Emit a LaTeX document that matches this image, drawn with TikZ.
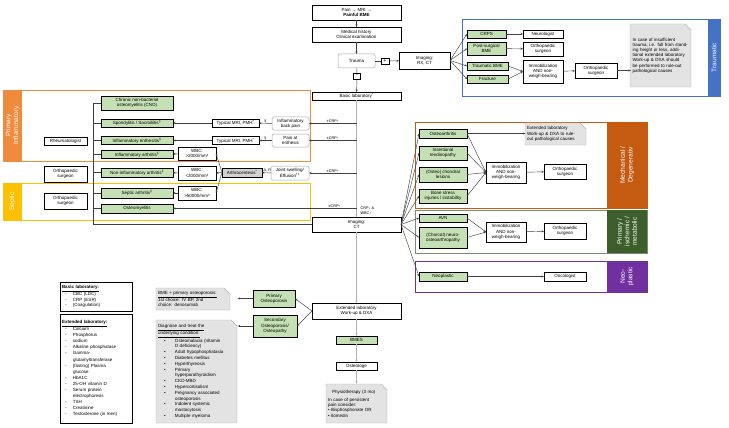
\documentclass[tikz,border=0pt]{standalone}
\usepackage{fontspec}
\setmainfont{Liberation Sans}
\usetikzlibrary{arrows.meta,calc}
\definecolor{grn}{HTML}{C5E0B4}
\definecolor{orgA}{HTML}{F08A3C}
\definecolor{orgB}{HTML}{C55A11}
\definecolor{yel}{HTML}{FFC000}
\definecolor{blu}{HTML}{4472C4}
\definecolor{dgr}{HTML}{3B5E2B}
\definecolor{pur}{HTML}{7030A0}
\definecolor{notef}{HTML}{E3E3E3}
\definecolor{linec}{HTML}{404040}
\newcommand\dgfont{\fontsize{4.5}{5.2}\selectfont}
\newcommand\dglab{\fontsize{3.8}{4.4}\selectfont}
\newcommand\dgstrip{\fontsize{6.6}{7.6}\selectfont}
\newcommand\itm[1]{\hspace*{3pt}\makebox[8pt][l]{-}#1}
\newcommand\itc[1]{\hspace*{11pt}#1}
\newcommand\btm[1]{\hspace*{6pt}\makebox[11pt][l]{\textbullet}#1}
\newcommand\btc[1]{\hspace*{17pt}#1}
\newcommand\foldnote[4]{\filldraw[notefill] (#1,#2) -- (#3-6,#2) -- (#3,#2+6) -- (#3,#4) -- (#1,#4) -- cycle;}
\begin{document}
\begin{tikzpicture}[x=1pt,y=-1pt,
  base/.style={font=\dgfont, align=center, inner sep=0.6pt, outer sep=0pt},
  wbox/.style={base, draw=black, line width=0.75pt, fill=white},
  gbox/.style={base, draw=black, line width=0.85pt, fill=grn},
  rbox/.style={base, draw=gray!70, line width=0.5pt, rounded corners=1.5pt, fill=white},
  gybox/.style={base, draw=black, line width=0.75pt, fill=gray!35},
  arr/.style={-{Stealth[length=2.5pt,width=2.1pt]}, draw=linec, line width=0.45pt},
  ln/.style={draw=linec, line width=0.45pt},
  mainv/.style={-{Stealth[length=2.6pt,width=2.2pt]}, draw=gray!60, line width=0.8pt},
  lbl/.style={font=\dglab, inner sep=0.4pt},
  striptxt/.style={font=\dgstrip, text=white, align=center, rotate=90, inner sep=0pt},
  notefill/.style={fill=notef, draw=gray!60, line width=0.4pt},
  notetxt/.style={font=\dgfont, align=left, inner sep=1.5pt},
  listbox/.style={draw=black, line width=0.75pt, fill=white, align=left, inner sep=2pt},
  signbox/.style={draw=black, line width=0.5pt, fill=white, inner sep=0pt, font=\fontsize{5.5}{5.5}\selectfont}
]
\useasboundingbox (0,0) rectangle (729,428);

% ---------- frames ----------
\draw[orgA, line width=0.9pt] (3,90) rectangle (310,161);
\fill[orgA] (3,90) rectangle (22,161);
\node[striptxt] (lblinf) at (12.5,125.5) {Primary\\Inflammatory};

\draw[yel, line width=0.9pt] (3,183) rectangle (310,220);
\fill[yel] (3,183) rectangle (22,220);
\node[striptxt] (lblsep) at (12.5,201.5) {Septic};

\draw[blu, line width=0.9pt] (462,19) rectangle (720,96);
\fill[blu] (708,19) rectangle (720,96);
\node[striptxt] (lbltra) at (714,57.5) {Traumatic};

\draw[orgB, line width=0.9pt] (415,122) rectangle (647,208);
\fill[orgB] (607,122) rectangle (647,208);
\node[striptxt] (lblmec) at (627,165) {Mechanical /\\Degenerativ};

\draw[dgr!70, line width=0.9pt] (415,210) rectangle (647,253);
\fill[dgr] (607,210) rectangle (647,253);
\node[striptxt] (lblisc) at (627,231.5) {Primary /\\ischemic /\\metabolic};

\draw[pur, line width=0.9pt] (415,261) rectangle (647,292);
\fill[pur] (607,261) rectangle (647,292);
\node[striptxt] (lblneo) at (627,276.5) {Neo-\\plastic};

% ---------- top column ----------
\node[wbox, minimum width=89, minimum height=15] (pain) at (356.5,12.5) {Pain → MRI →\\\textbf{Painful BME}};
\node[wbox, minimum width=89, minimum height=15] (med) at (356.5,34.5) {Medical history\\Clinical examination};
\node[rbox, minimum width=37, minimum height=14] (trauma) at (356.5,61) {Trauma};
\node[signbox, minimum width=8, minimum height=6] (plus) at (385,61) {+};
\node[wbox, minimum width=51, minimum height=17] (imgrx) at (424.5,60.5) {Imaging:\\RX, CT};
\node[signbox, minimum width=7, minimum height=6] (minus) at (357,76) {-};
\node[wbox, minimum width=89, minimum height=8] (basic) at (356.5,96) {Basic laboratory\textsuperscript{*}};

% ---------- traumatic ----------
\node[gbox, minimum width=39, minimum height=8] (crps) at (486.5,34) {CRPS};
\node[gbox, minimum width=39, minimum height=13] (postsurg) at (486.5,48.5) {Post-surgical\\BME};
\node[gbox, minimum width=41, minimum height=8] (traumbme) at (487.5,66) {Traumatic BME};
\node[gbox, minimum width=41, minimum height=8] (fracture) at (487.5,79) {Fracture};
\node[wbox, minimum width=40, minimum height=8] (neuro) at (543,34) {Neurologist};
\node[wbox, minimum width=40, minimum height=14] (ortho1) at (543,49) {Orthopaedic\\surgeon};
\node[wbox, minimum width=40, minimum height=23] (immo1) at (543,71.5) {Immobilization\\AND non-\\weigh-bearing};
\node[wbox, minimum width=42, minimum height=15] (ortho2) at (596,70.5) {Orthopaedic\\surgeon};
\foldnote{630}{24}{691}{87}
\node[notetxt, text width=56pt, minimum height=63] (note1) at (660.5,55.5) {In case of insufficient trauma, i.e. fall from standing height or less, additional extended laboratory Work-up \& DXA should be performed to rule-out pathological causes};

% ---------- primary inflammatory ----------
\node[gbox, minimum width=72, minimum height=14] (cno) at (137,103) {Chronic non-bacterial\\osteomyelitis (CNO)};
\node[gbox, minimum width=72, minimum height=8] (spond) at (137,123) {Spondylitis / Sacroiliitis\textsuperscript{§}};
\node[gbox, minimum width=72, minimum height=8] (enth) at (137,140.5) {Inflammatory enthesitis\textsuperscript{§}};
\node[gbox, minimum width=72, minimum height=8] (infarth) at (137,154.5) {Inflammatory arthritis\textsuperscript{§}};
\node[wbox, minimum width=43, minimum height=8] (rheum) at (65.5,141) {Rheumatologist};
\node[wbox, minimum width=38, minimum height=13] (wbc1) at (197,153.5) {WBC:\\>2000/mm³};
\node[wbox, minimum width=47, minimum height=8] (mri1) at (235.5,123) {Typical MRI, PMH\textsuperscript{*}};
\node[wbox, minimum width=47, minimum height=8] (mri2) at (235.5,140.5) {Typical MRI, PMH\textsuperscript{*}};
\node[rbox, minimum width=37, minimum height=13] (ibp) at (290.5,123.5) {Inflammatory\\back pain};
\node[rbox, minimum width=37, minimum height=13] (pae) at (290.5,140.5) {Pain at\\enthesis};

% ---------- middle row ----------
\node[wbox, minimum width=43, minimum height=16] (orthol1) at (65.5,174) {Orthopaedic\\surgeon};
\node[gbox, minimum width=72, minimum height=9] (noninf) at (137,172.5) {Non-inflammatory arthritis\textsuperscript{§}};
\node[wbox, minimum width=38, minimum height=14] (wbc2) at (197,173) {WBC:\\<2000/mm³};
\node[gybox, minimum width=40, minimum height=9] (arthro) at (242,172.5) {Arthrocentesis\textsuperscript{*}};
\node[rbox, minimum width=38, minimum height=14] (joint) at (290,173) {Joint swelling/\\Effusion\textsuperscript{†‡}};

% ---------- septic ----------
\node[wbox, minimum width=43, minimum height=16] (orthol2) at (65.5,201) {Orthopaedic\\surgeon};
\node[gbox, minimum width=72, minimum height=10] (septic) at (137,193) {Septic arthritis\textsuperscript{§}};
\node[wbox, minimum width=38, minimum height=14] (wbc3) at (197,193) {WBC:\\>50000/mm³};
\node[gbox, minimum width=72, minimum height=9] (osteomy) at (137,208.5) {Osteomyelitis};

\node[wbox, minimum width=89, minimum height=15] (imgct) at (356.5,224.5) {Imaging:\\CT};

% ---------- mechanical ----------
\node[gbox, minimum width=48, minimum height=9] (oa) at (443,133.5) {Osteoarthritis};
\node[gbox, minimum width=48, minimum height=14] (ins) at (443,153) {Insertional\\tendinopathy};
\node[gbox, minimum width=48, minimum height=15] (chon) at (443,174.5) {(Osteo) chondral\\lesions};
\node[gbox, minimum width=48, minimum height=14] (bsi) at (443,196) {Bone stress\\injuries / instability};
\foldnote{525}{123}{586}{145}
\node[notetxt, text width=57pt, minimum height=22] (extnote) at (555.5,134) {Extended laboratory\\Work-up \& DXA to rule-\\out pathological causes};
\node[wbox, minimum width=40, minimum height=21] (immo2) at (506,172.5) {Immobilization\\AND non-\\weigh-bearing};
\node[wbox, minimum width=42, minimum height=15] (ortho3) at (565,171.5) {Orthopaedic\\surgeon};

% ---------- ischemic ----------
\node[gbox, minimum width=48, minimum height=8] (avn) at (443,218) {AVN};
\node[gbox, minimum width=48, minimum height=21] (charcot) at (443,237.5) {(Charcot) neuro-\\osteoarthropathy};
\node[wbox, minimum width=40, minimum height=20] (immo3) at (506,232) {Immobilization\\AND non-\\weigh-bearing};
\node[wbox, minimum width=42, minimum height=16] (ortho4) at (565,231) {Orthopaedic\\surgeon};

% ---------- neoplastic ----------
\node[gbox, minimum width=48, minimum height=9] (neo) at (443,276.5) {Neoplastic};
\node[wbox, minimum width=42, minimum height=9] (onco) at (565,276.5) {Oncologist};

% ---------- bottom ----------
\node[wbox, minimum width=89, minimum height=16] (extlab) at (356.5,311) {Extended laboratory\\Work-up \& DXA};
\node[gbox, minimum width=41, minimum height=8] (bmes) at (356.5,340) {BMES};
\node[wbox, minimum width=41, minimum height=8] (osteologe) at (356.5,366) {Osteologe};
\foldnote{326}{384}{387}{423}
\node[notetxt, text width=57pt, minimum height=39] (physio) at (356.5,403.5) {\hspace*{4pt}Physiotherapy (3 mo)\\[3pt]In case of persistent\\pain consider:\\\textbullet\ Bisphosphonate OR\\\textbullet\ Ilomedin};
\node[gbox, minimum width=42, minimum height=17] (primost) at (274,298.5) {Primary\\Osteoporosis};
\node[gbox, minimum width=44, minimum height=22] (secost) at (275,326) {Secondary\\Osteoporosis/\\Osteopathy};
\foldnote{156}{288}{230}{310}
\node[notetxt, text width=70pt, minimum height=22] (bmenote) at (193,299) {\underline{BME + primary osteoporosis:}\\1st choice: IV BP, 2nd\\choice: denosumab};
\foldnote{156}{320}{237}{423}
\node[notetxt, text width=77pt, minimum height=103, font=\fontsize{4.5}{5.8}\selectfont] (diagnote) at (196.5,371.5) {\underline{Diagnose and treat the}\\\underline{underlying condition:}\\
\btm{Osteomalacia (Vitamin}\\\btc{D deficiency)}\\\btm{Adult hypophosphatasia}\\\btm{Diabetes mellitus}\\\btm{Hyperthyreosis}\\\btm{Primary}\\\btc{hyperparathyroidism}\\\btm{CKD-MBD}\\\btm{Hypercortisolism}\\\btm{Pregnancy associated}\\\btc{osteoporosis}\\\btm{Indolent systemic}\\\btc{mastocytosis}\\\btm{Multiple myeloma}};

\node[listbox, text width=68pt, minimum height=29, font=\fontsize{4.5}{5.6}\selectfont] (basiclist) at (96,296.5) {\underline{\textbf{Basic laboratory:}}\\\itm{CBC (LDC)}\\\itm{CRP (ESR)}\\\itm{(Coagulation)}};
\node[listbox, text width=68pt, minimum height=109, font=\fontsize{4.5}{6.1}\selectfont] (extlist) at (96,368.5) {\underline{\textbf{Extended laboratory:}}\\\itm{Calcium}\\\itm{Phosphorus}\\\itm{sodium}\\\itm{Alkaline phosphatase}\\\itm{Gamma-}\\\itc{glutamyltransferase}\\\itm{(fasting) Plasma}\\\itc{glucose}\\\itm{HbA1C}\\\itm{25-OH vitamin D}\\\itm{Serum protein}\\\itc{electrophoresis}\\\itm{TSH}\\\itm{Creatinine}\\\itm{Testosterone (in men)}};

% ---------- connectors: top ----------
\draw[arr] (pain) -- (med);
\draw[arr] (med) -- (trauma);
\draw[ln] (trauma) -- (plus);
\draw[arr] (plus) -- (imgrx);
\draw[ln] (trauma) -- (minus);
\draw[arr] (minus) -- (basic);
\foreach \n in {crps,postsurg,traumbme,fracture} \draw[arr] (imgrx.east) -- (\n.west);
\draw[arr] (crps) -- (neuro);
\draw[arr] (postsurg) -- (ortho1);
\draw[arr] (traumbme.east) -- (immo1.west);
\draw[arr] (fracture.east) -- (immo1.west);
\draw[arr] (immo1) -- (ortho2);
\draw[arr] (ortho2.east) -- (ortho2.east -| note1.west);

% ---------- main vertical ----------
\draw[mainv] (basic) -- (imgct);
\draw[arr] (basic.south |- ibp.east) -- (ibp.east) node[lbl, above, pos=0.5] {±CRP↑};
\draw[arr] (basic.south |- pae.east) -- (pae.east) node[lbl, above, pos=0.5] {±CRP↑};
\draw[arr] (basic.south |- joint.east) -- (joint.east) node[lbl, above, pos=0.5] {±CRP↑};
\draw[arr] (basic.south |- osteomy.east) -- (osteomy.east) node[lbl, above, pos=0.12] {±CRP↑};
\node[lbl, align=left, anchor=south west] (crpwbc) at (360,215) {CRP↓ \&\\WBC↓};

\draw[arr] (ibp) -- (mri1) node[lbl, above, pos=0.5] {§};
\draw[arr] (mri1) -- (spond);
\draw[arr] (pae) -- (mri2) node[lbl, above, pos=0.5] {§};
\draw[arr] (mri2) -- (enth);
\draw[arr] (joint) -- (arthro) node[lbl, above, pos=0.4] {A, R};
\draw[arr] (arthro.west) -- (wbc1.east);
\draw[arr] (arthro.west) -- (wbc2.east);
\draw[arr] (arthro.west) -- (wbc3.east);
\draw[arr] (wbc1) -- (infarth);
\draw[arr] (wbc2) -- (noninf);
\draw[arr] (wbc3) -- (septic);

% left collector
\coordinate (lvx) at (93,0);
\draw[ln] (cno.west) -- (cno.west -| lvx) |- (imgct.west);
\foreach \n in {spond,enth,infarth,noninf,septic,osteomy} \draw[ln] (\n.west) -- (\n.west -| lvx);

% ---------- right fan ----------
\foreach \n in {oa,ins,chon,bsi,avn,charcot,neo} \draw[arr] (imgct.east) -- (\n.west);
\draw[arr] (oa.east) -- (oa.east -| extnote.west);
\foreach \n in {oa,ins,chon,bsi} \draw[arr] (\n.east) -- (immo2.west);
\draw[arr] (immo2) -- (ortho3);
\foreach \n in {avn,charcot} \draw[arr] (\n.east) -- (immo3.west);
\draw[arr] (immo3) -- (ortho4);
\draw[arr] (neo) -- (onco);

% ---------- bottom ----------
\draw[mainv] (imgct) -- (extlab);
\draw[mainv] (extlab) -- (bmes);
\draw[mainv] (bmes) -- (osteologe);
\draw[mainv] (osteologe) -- (physio);
\draw[arr] (extlab.west) -- (primost.east);
\draw[arr] (extlab.west) -- (secost.east);
\draw[arr, shorten >=8pt] (primost.west) -- (primost.west -| bmenote.east);
\draw[arr, shorten >=1pt] (secost.west) -- (secost.west -| diagnote.east);
\end{tikzpicture}
\end{document}
